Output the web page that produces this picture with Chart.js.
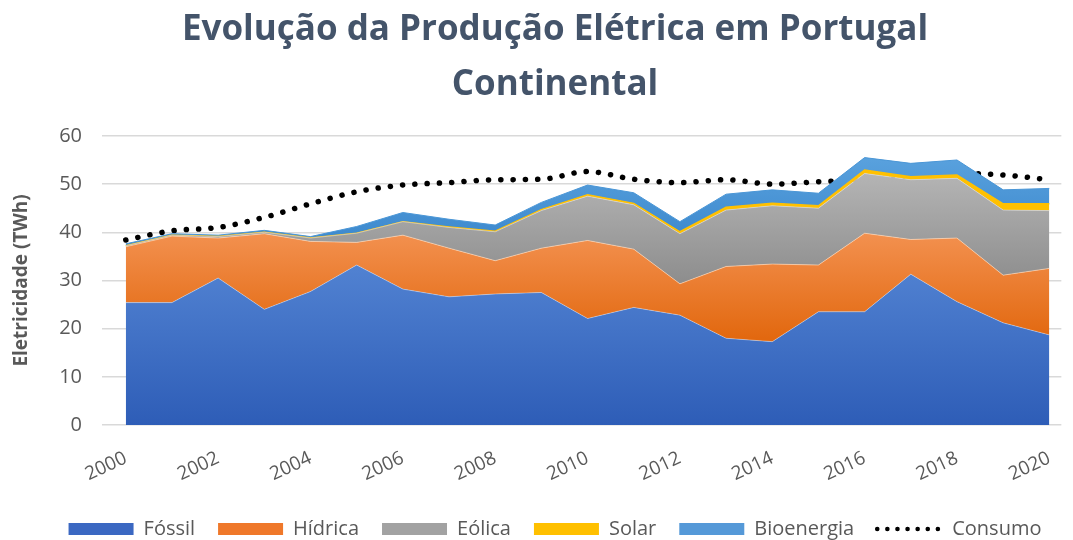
<!DOCTYPE html>
<html>
<head>
<meta charset="utf-8">
<script src="https://cdn.jsdelivr.net/npm/chart.js@4"></script>
<style>
  html, body { margin: 0; padding: 0; background: #fff; overflow: hidden; }
  #wrap { width: 1073px; height: 540px; }
</style>
</head>
<body>
<div id="wrap"><canvas id="chart"></canvas></div>
<script>
// data (TWh)
const years = [2000, 2001, 2002, 2003, 2004, 2005, 2006, 2007, 2008, 2009, 2010,
  2011, 2012, 2013, 2014, 2015, 2016, 2017, 2018, 2019, 2020];
const fossil = [25.4, 25.4, 30.5, 24.0, 27.7, 33.2, 28.2, 26.6, 27.2, 27.5, 22.1,
  24.4, 22.8, 18.0, 17.3, 23.5, 23.5, 31.3, 25.6, 21.2, 18.7];
const hydro = [11.6, 13.8, 8.3, 15.7, 10.4, 4.7, 11.2, 10.1, 6.9, 9.2, 16.2,
  12.1, 6.5, 14.9, 16.1, 9.7, 16.3, 7.2, 13.2, 9.9, 13.8];
const wind = [0.2, 0.2, 0.3, 0.3, 0.7, 1.9, 2.8, 4.3, 6.0, 7.8, 9.2,
  9.2, 10.4, 11.7, 12.1, 11.8, 12.4, 12.4, 12.4, 13.5, 12.0];
const solar = [0, 0, 0, 0, 0, 0, 0, 0.1, 0.1, 0.2, 0.3,
  0.3, 0.4, 0.6, 0.5, 0.5, 0.7, 0.6, 0.7, 1.3, 1.4];
const bio = [0.4, 0.3, 0.3, 0.4, 0.3, 1.4, 1.9, 1.6, 1.3, 1.5, 2.0,
  2.2, 2.1, 2.7, 2.8, 2.6, 2.6, 2.8, 3.1, 2.9, 3.2];
const consumo = [38.4, 40.3, 41.0, 43.1, 45.9, 48.4, 49.8, 50.3, 50.9, 51.0, 52.6,
  51.0, 50.3, 50.9, 50.0, 50.5, 50.9, 51.7, 52.2, 51.9, 50.9];
const yTicks = [0, 10, 20, 30, 40, 50, 60];

// vertical gradient, from value hi (top colour) down to value lo (bottom colour)
function grad(hi, lo, cTop, cBot, solid) {
  return (ctx) => {
    const chart = ctx.chart;
    const ys = chart.scales.y;
    if (!chart.chartArea || !ys) return solid;
    const g = chart.ctx.createLinearGradient(0, ys.getPixelForValue(hi), 0, ys.getPixelForValue(lo));
    g.addColorStop(0, cTop);
    g.addColorStop(1, cBot);
    return g;
  };
}

const legendSolid = ['#3B68C2', '#EF782A', '#A2A2A2', '#FFC000', '#5599D8', '#000'];
const font = 'Open Sans';

new Chart(document.getElementById('chart'), {
  type: 'line',
  data: {
    labels: years,
    datasets: [
      { label: 'Fóssil', data: fossil, stack: 'prod', fill: 'origin',
        backgroundColor: grad(35, 0, '#5384D3', '#2E5DB7', '#4472C4'),
        borderColor: 'rgba(255,255,255,0.35)', borderWidth: 1 },
      { label: 'Hídrica', data: hydro, stack: 'prod', fill: '-1',
        backgroundColor: grad(40, 18, '#F39150', '#E2680F', '#ED7D31'),
        borderColor: 'rgba(255,220,190,0.6)', borderWidth: 1 },
      { label: 'Eólica', data: wind, stack: 'prod', fill: '-1',
        backgroundColor: grad(52, 30, '#B4B4B4', '#8E8E8E', '#A5A5A5'),
        borderColor: 'rgba(220,220,220,0.6)', borderWidth: 1 },
      { label: 'Solar', data: solar, stack: 'prod', fill: '-1',
        backgroundColor: '#FFC000', borderColor: '#FFC000', borderWidth: 1.5 },
      { label: 'Bioenergia', data: bio, stack: 'prod', fill: '-1',
        backgroundColor: grad(56, 40, '#5AA2DE', '#3F8BCF', '#5B9BD5'),
        borderColor: '#4A96D6', borderWidth: 1 },
      { label: 'Consumo', data: consumo, stack: 'cons', fill: false,
        borderColor: '#000', borderWidth: 5.5, borderDash: [0.1, 12.2], borderCapStyle: 'round',
        tension: 0.4, cubicInterpolationMode: 'monotone' }
    ]
  },
  options: {
    responsive: true,
    maintainAspectRatio: false,
    animation: false,
    layout: { padding: { left: 40, right: 3, top: 0, bottom: -9 } },
    elements: { point: { radius: 0, hoverRadius: 0 }, line: { tension: 0 } },
    plugins: {
      title: {
        display: true,
        text: ['Evolução da Produção Elétrica em Portugal', 'Continental'],
        color: '#44546A',
        font: { family: font, size: 35, weight: 'bold', lineHeight: 1.57 },
        padding: { top: 3, bottom: 23 }
      },
      legend: {
        position: 'bottom',
        labels: {
          color: '#595959',
          font: { family: font, size: 20 },
          usePointStyle: true,
          pointStyleWidth: 65,
          boxHeight: 12,
          padding: 23,
          generateLabels: (chart) => chart.data.datasets.map((ds, i) => ({
            text: ds.label,
            datasetIndex: i,
            fillStyle: legendSolid[i],
            strokeStyle: legendSolid[i],
            lineWidth: i === 5 ? 4.5 : 0,
            lineDash: i === 5 ? [0.1, 10] : [],
            lineCap: 'round',
            pointStyle: i === 5 ? 'line' : 'rect',
            fontColor: '#595959',
            hidden: false
          }))
        }
      },
      tooltip: { enabled: false }
    },
    scales: {
      x: {
        type: 'linear',
        min: 1999.485,
        max: 2020.26,
        grid: { display: false },
        border: { display: false },
        afterBuildTicks: (s) => { s.ticks = years.filter(y => y % 2 === 0).map(v => ({ value: v })); },
        afterFit: (s) => { s.height = 71; },
        ticks: {
          color: '#595959',
          font: { family: font, size: 19 },
          minRotation: 25,
          maxRotation: 25,
          padding: 14,
          callback: (v) => String(v)
        }
      },
      y: {
        stacked: true,
        min: 0,
        max: 60,
        afterBuildTicks: (s) => { s.ticks = yTicks.map(v => ({ value: v })); },
        afterFit: (s) => { s.width = 62; },
        grid: { color: '#D9D9D9', lineWidth: 1.5, drawTicks: false },
        border: { display: false },
        title: {
          display: true,
          text: 'Eletricidade (TWh)',
          color: '#595959',
          font: { family: font, size: 19, weight: 'bold' },
          padding: { top: -29.5, bottom: 0 }
        },
        ticks: {
          color: '#595959',
          font: { family: font, size: 20 },
          padding: 20
        }
      }
    }
  }
});
</script>
</body>
</html>
